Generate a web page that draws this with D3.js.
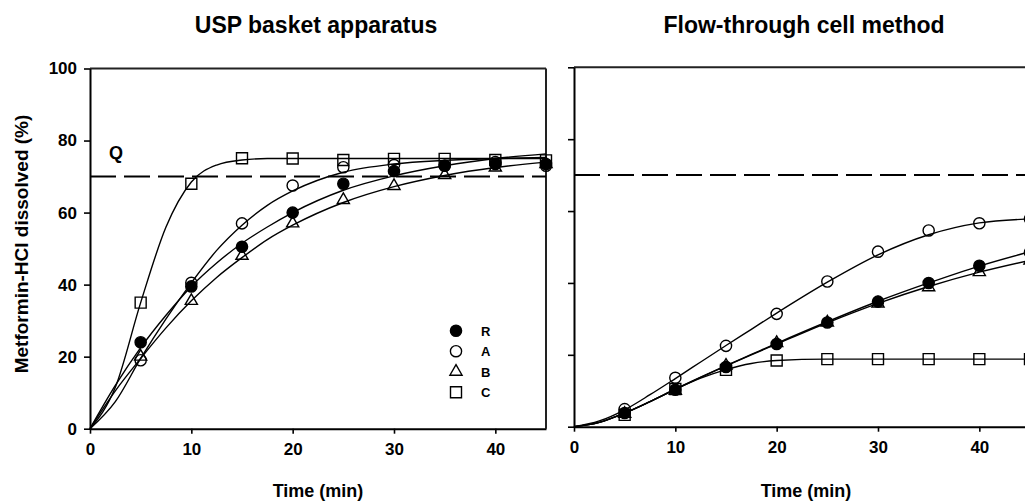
<!DOCTYPE html>
<html>
<head>
<meta charset="utf-8">
<script src="https://cdn.jsdelivr.net/npm/d3@7"></script>
<style>
  body { margin: 0; background: #fff; }
  svg text { font-family: "Liberation Sans", Arial, sans-serif; font-weight: bold; fill: #000; }
</style>
</head>
<body>
<svg id="chart" width="1025" height="502"></svg>
<script>
// ---------------- DATA ----------------
const panelTitles = ["USP basket apparatus", "Flow-through cell method"];
const seriesNames = ["R", "A", "B", "C"];
const sampleTimes = [5, 10, 15, 20, 25, 30, 35, 40, 45];
const xTicks = [0, 10, 20, 30, 40];
const yTicks = [0, 20, 40, 60, 80, 100];
const qLevel = 70;

// observed points (% dissolved)
const uspR = [24, 39.5, 50.5, 60, 68, 71.5, 73, 73.5, 73.5];
const uspA = [19, 40.5, 57, 67.5, 72.6, 73.2, 73, 74, 73];
const uspB = [20, 35.5, 48, 57, 63.5, 67.4, 70.4, 72.5, 73.5];
const uspC = [35, 68, 75.1, 75, 74.6, 74.9, 74.9, 74.6, 74.5];

const ftcR = [3.8, 10.3, 16.6, 23, 29, 34.8, 40, 44.8, 48.5];
const ftcA = [4.9, 13.6, 22.5, 31.4, 40.4, 48.7, 54.6, 56.6, 57.8];
const ftcB = [3.6, 10, 17, 23.3, 29, 34.3, 38.8, 43, 46.2];
const ftcC = [3.3, 10.5, 15.8, 18.4, 18.8, 18.8, 18.8, 18.8, 18.8];

// fitted curves
const fitTimes = [0, 2.5, 5, 7.5, 10, 12.5, 15, 17.5, 20, 25, 30, 35, 40, 45];
const uspFitR = [0, 12, 22.5, 31.5, 39.5, 46, 51.5, 56, 60, 66.2, 70.2, 73, 75, 76.3];
const uspFitA = [0, 7.5, 19.5, 30.5, 40.5, 49.5, 56.5, 62, 66, 71.2, 73.5, 74.5, 75, 75.3];
const uspFitB = [0, 10.5, 19.5, 28, 35.5, 42, 47.5, 52.5, 56.5, 62.8, 67.2, 70.3, 72.5, 74];
const uspFitC = [0, 11.5, 35, 56, 68.5, 73.2, 74.6, 75, 75, 75, 75, 75, 75, 75];

const ftcFitR = [0, 1.2, 3.8, 7, 10.5, 13.8, 17, 20.1, 23.2, 29.2, 34.9, 40, 44.7, 48.7];
const ftcFitA = [0, 1.6, 4.7, 8.9, 13.4, 18, 22.6, 27.1, 31.6, 40.2, 47.8, 53.4, 56.7, 57.8];
const ftcFitB = [0, 1.2, 3.8, 7, 10.4, 13.7, 16.9, 20, 23, 28.9, 34.3, 39, 43, 46.3];
const ftcFitC = [0, 1.2, 3.8, 7, 10.4, 13.5, 15.9, 17.6, 18.4, 18.8, 18.8, 18.8, 18.8, 18.8];

// ---------------- LAYOUT ----------------
const svg = d3.select("#chart");
const panels = [
  { title: panelTitles[0], cx: 316, x0: 90, x1: 546, yTop: 68.5, yBot: 428.7, labels: true,
    pts: [uspR, uspA, uspB, uspC], fits: [uspFitR, uspFitA, uspFitB, uspFitC], legend: true, q: true },
  { title: panelTitles[1], cx: 804, x0: 574, x1: 1030, yTop: 67.3, yBot: 426.7, labels: false,
    pts: [ftcR, ftcA, ftcB, ftcC], fits: [ftcFitR, ftcFitA, ftcFitB, ftcFitC], legend: false, q: false }
];

const markerStyles = {
  R: { type: d3.symbolCircle, size: Math.PI * 5.6 * 5.6, fill: "#000" },
  A: { type: d3.symbolCircle, size: Math.PI * 5.6 * 5.6, fill: "none" },
  B: { type: d3.symbolTriangle, size: 64, fill: "none" },
  C: { type: d3.symbolSquare, size: 121, fill: "none" }
};

panels.forEach(p => {
  const x = d3.scaleLinear().domain([0, 45]).range([p.x0, p.x1]);
  const y = d3.scaleLinear().domain([0, 100]).range([p.yBot, p.yTop]);
  const g = svg.append("g");

  // title
  g.append("text").attr("x", p.cx).attr("y", 33).attr("text-anchor", "middle")
    .style("font-size", "23px").text(p.title);

  // frame top / right
  g.append("line").attr("x1", x(0)).attr("x2", x(45)).attr("y1", y(100)).attr("y2", y(100))
    .attr("stroke", "#222").attr("stroke-width", 2);
  g.append("line").attr("x1", x(45)).attr("x2", x(45)).attr("y1", y(100)).attr("y2", y(0))
    .attr("stroke", "#222").attr("stroke-width", 2);

  // axes
  const yAxis = d3.axisLeft(y).tickValues(yTicks).tickSize(6).tickSizeOuter(0).tickPadding(7);
  if (!p.labels) yAxis.tickFormat("");
  const ya = g.append("g").attr("transform", `translate(${x(0)},0)`).call(yAxis);
  const xAxis = d3.axisBottom(x).tickValues(xTicks).tickSize(5).tickSizeOuter(0).tickPadding(9);
  const xa = g.append("g").attr("transform", `translate(0,${y(0)})`).call(xAxis);
  [ya, xa].forEach(a => {
    a.select(".domain").attr("stroke", "#000").attr("stroke-width", 2);
    a.selectAll(".tick line").attr("stroke", "#000").attr("stroke-width", 1.6);
    a.selectAll(".tick text").style("font-size", "17px").style("font-family", "Liberation Sans, Arial, sans-serif")
      .style("font-weight", "bold").attr("fill", "#000");
  });

  // axis title
  g.append("text").attr("x", p.cx + 2).attr("y", 497)
    .attr("text-anchor", "middle").style("font-size", "18px").text("Time (min)");

  // Q dashed line
  g.append("line").attr("x1", x(0)).attr("x2", x(45)).attr("y1", y(qLevel)).attr("y2", y(qLevel))
    .attr("stroke", "#000").attr("stroke-width", 2).attr("stroke-dasharray", "26,8");

  // fitted curves
  const line = d3.line().x((d, i) => x(fitTimes[i])).y(d => y(d)).curve(d3.curveMonotoneX);
  p.fits.forEach(f => {
    g.append("path").datum(f).attr("d", line).attr("fill", "none").attr("stroke", "#000").attr("stroke-width", 1.4);
  });

  // markers
  p.pts.forEach((vals, si) => {
    const st = markerStyles[seriesNames[si]];
    const sym = d3.symbol().type(st.type).size(st.size);
    g.selectAll(null).data(vals).enter().append("path")
      .attr("d", sym)
      .attr("transform", (d, i) => `translate(${x(sampleTimes[i])},${y(d)})`)
      .attr("fill", st.fill).attr("stroke", "#000").attr("stroke-width", 1.4);
  });

  if (p.q) {
    g.append("text").attr("x", 109).attr("y", 159).style("font-size", "18px").text("Q");
  }

  if (p.legend) {
    const lg = g.append("g");
    seriesNames.forEach((s, i) => {
      const st = markerStyles[s];
      const yy = 330.7 + i * 20.5;
      lg.append("path").attr("d", d3.symbol().type(st.type).size(st.size)())
        .attr("transform", `translate(456,${yy})`)
        .attr("fill", st.fill).attr("stroke", "#000").attr("stroke-width", 1.4);
      lg.append("text").attr("x", 481).attr("y", yy + 5).style("font-size", "13px").text(s);
    });
  }
});

// y axis title
svg.append("text").attr("transform", "translate(28,244) rotate(-90)")
  .attr("text-anchor", "middle").style("font-size", "19px").text("Metformin-HCl dissolved (%)");
</script>
</body>
</html>
